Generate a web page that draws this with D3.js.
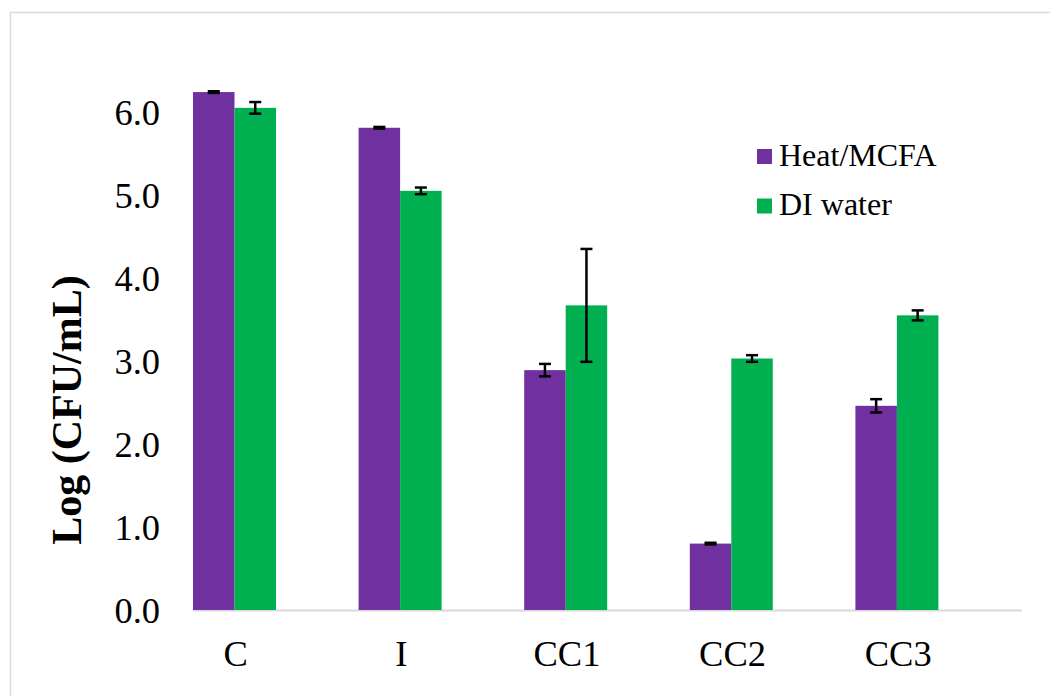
<!DOCTYPE html>
<html><head><meta charset="utf-8">
<script src="https://cdn.jsdelivr.net/npm/d3@7/dist/d3.min.js"></script>
<style>body{margin:0;background:#fff}svg{display:block}</style>
</head><body><svg id="c" width="1050" height="696"></svg>
<script>
const categories = ["C","I","CC1","CC2","CC3"];
const seriesNames = ["Heat/MCFA","DI water"];
const heatValues = [6.24, 5.81, 2.89, 0.80, 2.46];
const heatErrors = [0.01, 0.01, 0.075, 0.01, 0.08];
const waterValues = [6.05, 5.05, 3.67, 3.03, 3.55];
const waterErrors = [0.07, 0.04, 0.68, 0.04, 0.06];
const yTicks = [0,1,2,3,4,5,6];
const colors = ["#7030A0","#00B050"];

const svg = d3.select("#c");
const font = "'Liberation Serif','Times New Roman',serif";
svg.append("rect").attr("x",10.5).attr("y",12.5).attr("width",1100).attr("height",1000)
  .attr("fill","#fff").attr("stroke","#D9D9D9").attr("stroke-width",1.5);

const y = d3.scaleLinear().domain([0,6]).range([610,112]);
const x = d3.scaleBand().domain(categories).range([153,981]).paddingInner(0).paddingOuter(0);
const inner = d3.scaleBand().domain(seriesNames).range([40,123]);

// axis line
svg.append("line").attr("x1",193).attr("x2",1022).attr("y1",610.5).attr("y2",610.5)
  .attr("stroke","#D9D9D9").attr("stroke-width",2);

const series = [
  {name:seriesNames[0], vals:heatValues, errs:heatErrors},
  {name:seriesNames[1], vals:waterValues, errs:waterErrors}
];
series.forEach((s,si)=>{
  const g = svg.append("g");
  g.selectAll("rect").data(categories).join("rect")
    .attr("x",c=>x(c)+inner(s.name))
    .attr("width",inner.bandwidth())
    .attr("y",(c,i)=>y(s.vals[i]))
    .attr("height",(c,i)=>y(0)-y(s.vals[i]))
    .attr("fill",colors[si]);
});
series.forEach((s,si)=>{
  const g = svg.append("g").attr("stroke","#000").attr("stroke-width",2.5);
  categories.forEach((c,i)=>{
    const cx = x(c)+inner(s.name)+inner.bandwidth()/2;
    const hi = y(s.vals[i]+s.errs[i]), lo = y(s.vals[i]-s.errs[i]);
    g.append("line").attr("x1",cx).attr("x2",cx).attr("y1",hi).attr("y2",lo);
    g.append("line").attr("x1",cx-6).attr("x2",cx+6).attr("y1",hi).attr("y2",hi);
    g.append("line").attr("x1",cx-6).attr("x2",cx+6).attr("y1",lo).attr("y2",lo);
  });
});

// y tick labels
svg.append("g").selectAll("text").data(yTicks).join("text")
  .attr("x",160).attr("y",d=>y(d)+12.5)
  .attr("text-anchor","end").attr("font-family",font).attr("font-size",36.5).attr("fill","#000")
  .text(d=>d3.format(".1f")(d));

// category labels
svg.append("g").selectAll("text").data(categories).join("text")
  .attr("x",c=>x(c)+x.bandwidth()/2).attr("y",666)
  .attr("text-anchor","middle").attr("font-family",font).attr("font-size",36.5).attr("fill","#000")
  .text(c=>c);

// y title
svg.append("text").attr("transform","translate(81,410) rotate(-90)")
  .attr("text-anchor","middle").attr("font-family",font).attr("font-size",42)
  .attr("font-weight","bold").attr("fill","#000").text("Log (CFU/mL)");

// legend
const lg = svg.append("g");
seriesNames.forEach((n,i)=>{
  lg.append("rect").attr("x",757).attr("y",149+i*49.5).attr("width",15).attr("height",15).attr("fill",colors[i]);
  lg.append("text").attr("x",779).attr("y",165.5+i*49.5).attr("font-family",font).attr("font-size",32)
    .attr("fill","#000").text(n);
});
</script></body></html>
